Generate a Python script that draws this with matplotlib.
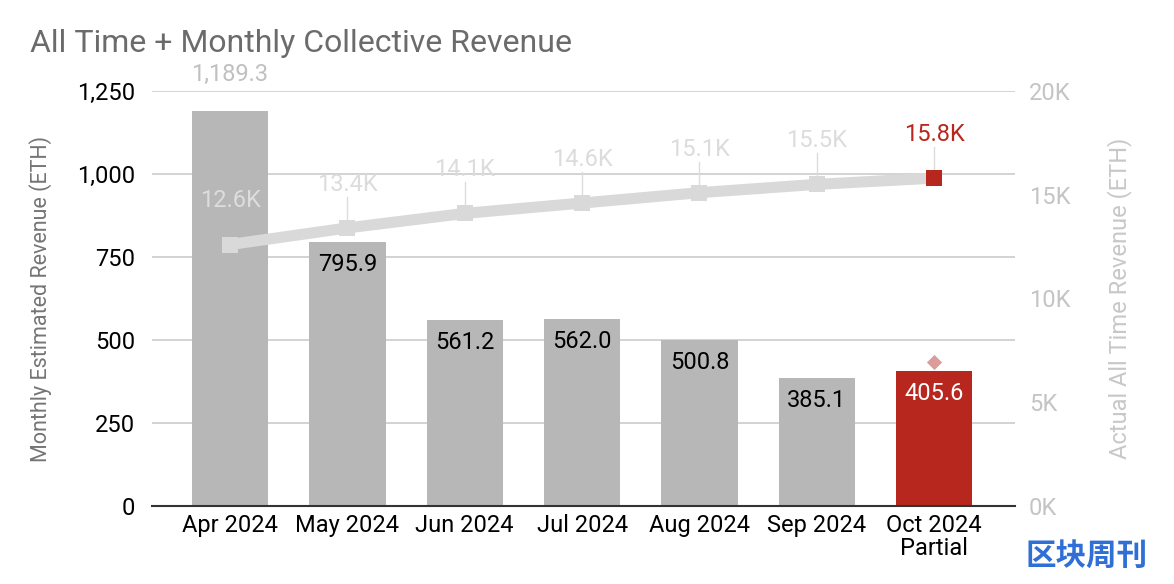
import matplotlib
matplotlib.use("Agg")
import matplotlib.pyplot as plt
from matplotlib.ticker import FuncFormatter, FixedLocator

plt.rcParams['font.family'] = ['Roboto', 'DejaVu Sans']

months = ["Apr 2024", "May 2024", "Jun 2024", "Jul 2024", "Aug 2024", "Sep 2024", "Oct 2024\nPartial"]
monthly_rev = [1189.3, 795.9, 561.2, 562.0, 500.8, 385.1, 405.6]
alltime_rev = [12600, 13400, 14100, 14600, 15100, 15500, 15800]
alltime_labels = ["12.6K", "13.4K", "14.1K", "14.6K", "15.1K", "15.5K", "15.8K"]
oct_projection = 434
left_ticks = [0, 250, 500, 750, 1000, 1250]
right_ticks = [0, 5000, 10000, 15000, 20000]
right_tick_labels = ["0K", "5K", "10K", "15K", "20K"]

GRAY_BAR = "#b7b7b7"
RED = "#b8271d"
LINE = "#d9d9d9"
FS = 17

fig = plt.figure(figsize=(11.74, 5.84), dpi=100)
ax = fig.add_axes([0.1295, 0.1336, 0.8646 - 0.1295, 0.8442 - 0.1336])
ax2 = ax.twinx()

x = list(range(len(months)))
colors = [GRAY_BAR] * (len(months) - 1) + [RED]
ax.bar(x, monthly_rev, width=0.65, color=colors, zorder=2)
ax.set_xlim(-0.665, 6.69)
ax.set_ylim(0, 1250)
ax.yaxis.set_major_locator(FixedLocator(left_ticks))
ax.yaxis.set_major_formatter(FuncFormatter(lambda v, p: f"{int(v):,}"))
ax.grid(axis='y', color="#cccccc", linewidth=1.2, zorder=0)
ax.set_axisbelow(True)
for s in ["top", "right", "left"]:
    ax.spines[s].set_visible(False)
ax.spines["bottom"].set_color("#333333")
ax.spines["bottom"].set_linewidth(1.5)
ax.tick_params(axis='both', length=0, labelsize=FS, colors="black", pad=12)
ax.tick_params(axis='x', pad=6)
ax.set_xticks(x)
ax.set_xticklabels(months, fontsize=FS, linespacing=1.0)
ax.set_ylabel("Monthly Estimated Revenue (ETH)", fontsize=15.5, color="#757575", labelpad=18)

# bar labels
for i, v in enumerate(monthly_rev):
    if i == 0:
        ax.text(i, 1250 + 50, f"{v:,.1f}", ha='center', va='center', fontsize=FS, color="#c0c0c0", clip_on=False)
    else:
        col = "white" if i == len(months) - 1 else "black"
        ax.text(i, v - 68, f"{v:,.1f}", ha='center', va='center', fontsize=FS, color=col, zorder=5)

ax.scatter([6], [oct_projection], marker='D', s=60, color="#dd9c9c", zorder=4, linewidths=0)

# line on right axis
ax2.set_ylim(0, 20000)
ax2.plot(x, alltime_rev, color=LINE, linewidth=8, zorder=3, solid_capstyle='butt')
ax2.scatter(x[:-1], alltime_rev[:-1], marker='s', s=120, color=LINE, zorder=4, linewidths=0)
ax2.scatter([x[-1]], [alltime_rev[-1]], marker='s', s=120, color=RED, zorder=4, linewidths=0)
ax2.yaxis.set_major_locator(FixedLocator(right_ticks))
ax2.set_yticklabels(right_tick_labels)
ax2.tick_params(axis='y', length=0, labelsize=FS, colors="#c4c4c4", pad=10)
for s in ["top", "right", "left", "bottom"]:
    ax2.spines[s].set_visible(False)
ax2.set_ylabel("Actual All Time Revenue (ETH)", fontsize=17, color="#c8c8c8", labelpad=26)

for i, (v, lab) in enumerate(zip(alltime_rev, alltime_labels)):
    ly = v + 2100
    if i == 0:
        ax2.text(i, ly, lab, ha='center', va='center', fontsize=FS, color="#dddddd", zorder=5)
        continue
    col = RED if i == len(months) - 1 else "#dcdcdc"
    ax2.plot([i, i], [v + 250, ly - 600], color="#dcdcdc", linewidth=1, zorder=2)
    ax2.text(i, ly, lab, ha='center', va='center', fontsize=FS, color=col, zorder=5)

fig.text(30 / 1174, 1 - 43 / 584, "All Time + Monthly Collective Revenue", fontsize=23,
         color="#6b6b6b", ha='left', va='center')

# watermark
fig.text(1147 / 1174, 1 - 556 / 584, "区块周刊", fontsize=22, color="#2f6fd6",
         ha='right', va='center', family=['Noto Sans CJK SC', 'DejaVu Sans'], fontweight='bold')

fig.savefig("out.png", dpi=100)
